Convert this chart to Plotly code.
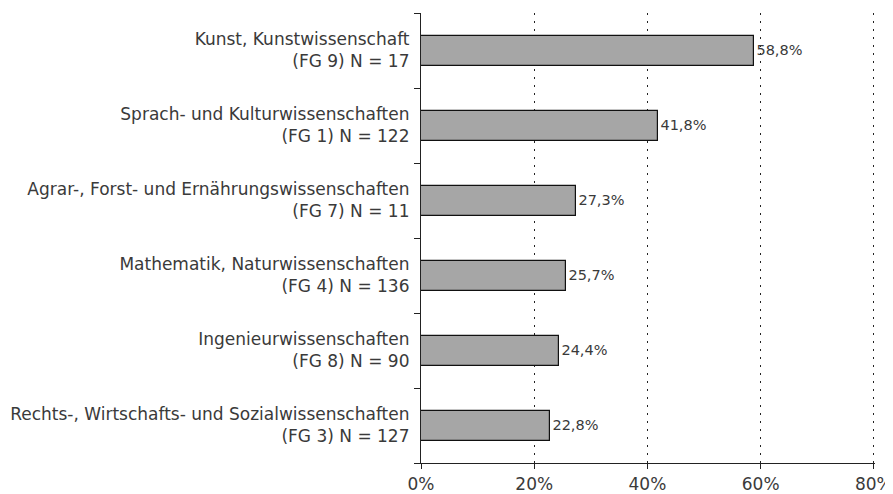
import plotly.graph_objects as go

categories = [
    "Rechts-, Wirtschafts- und Sozialwissenschaften<br>(FG 3) N = 127",
    "Ingenieurwissenschaften<br>(FG 8) N = 90",
    "Mathematik, Naturwissenschaften<br>(FG 4) N = 136",
    "Agrar-, Forst- und Ernährungswissenschaften<br>(FG 7) N = 11",
    "Sprach- und Kulturwissenschaften<br>(FG 1) N = 122",
    "Kunst, Kunstwissenschaft<br>(FG 9) N = 17",
]
values = [22.8, 24.4, 25.7, 27.3, 41.8, 58.8]
x_ticks = [0, 20, 40, 60, 80]
x_tick_labels = ["0%", "20%", "40%", "60%", "80%"]

fig = go.Figure(go.Bar(
    y=categories, x=values, orientation="h", width=0.4,
    marker=dict(color="#a6a6a6", line=dict(color="#111111", width=1.2)),
    texttemplate="%{x:.1f}%", textposition="outside",
    textfont=dict(size=14.5, color="#3a3a3a"), cliponaxis=False,
))

# the page body adds an 8px offset, so the figure is sized to fit the window
fig.update_layout(
    width=885, height=486,
    margin=dict(l=413, r=18, t=5, b=31),
    plot_bgcolor="white", paper_bgcolor="white",
    separators=",.",
    font=dict(family="DejaVu Sans", size=17, color="#3a3a3a"),
    showlegend=False,
    bargap=0,
)
fig.update_xaxes(
    range=[0, 80.2], tickvals=x_ticks, ticktext=x_tick_labels,
    showgrid=True, gridcolor="#222222", griddash="2px,6px", gridwidth=1,
    showline=True, linecolor="#222222", linewidth=1.2,
    ticks="outside", ticklen=5, tickcolor="#222222",
    tickfont=dict(size=17, color="#3a3a3a"), zeroline=False, automargin=False,
)
fig.update_yaxes(
    showline=True, linecolor="#222222", linewidth=1.2,
    ticks="outside", ticklen=6, tickcolor="#222222", tickson="boundaries",
    showgrid=False, tickfont=dict(size=17, color="#3a3a3a"),
    automargin=False, ticklabelstandoff=7,
)
fig.write_html("out.html")
